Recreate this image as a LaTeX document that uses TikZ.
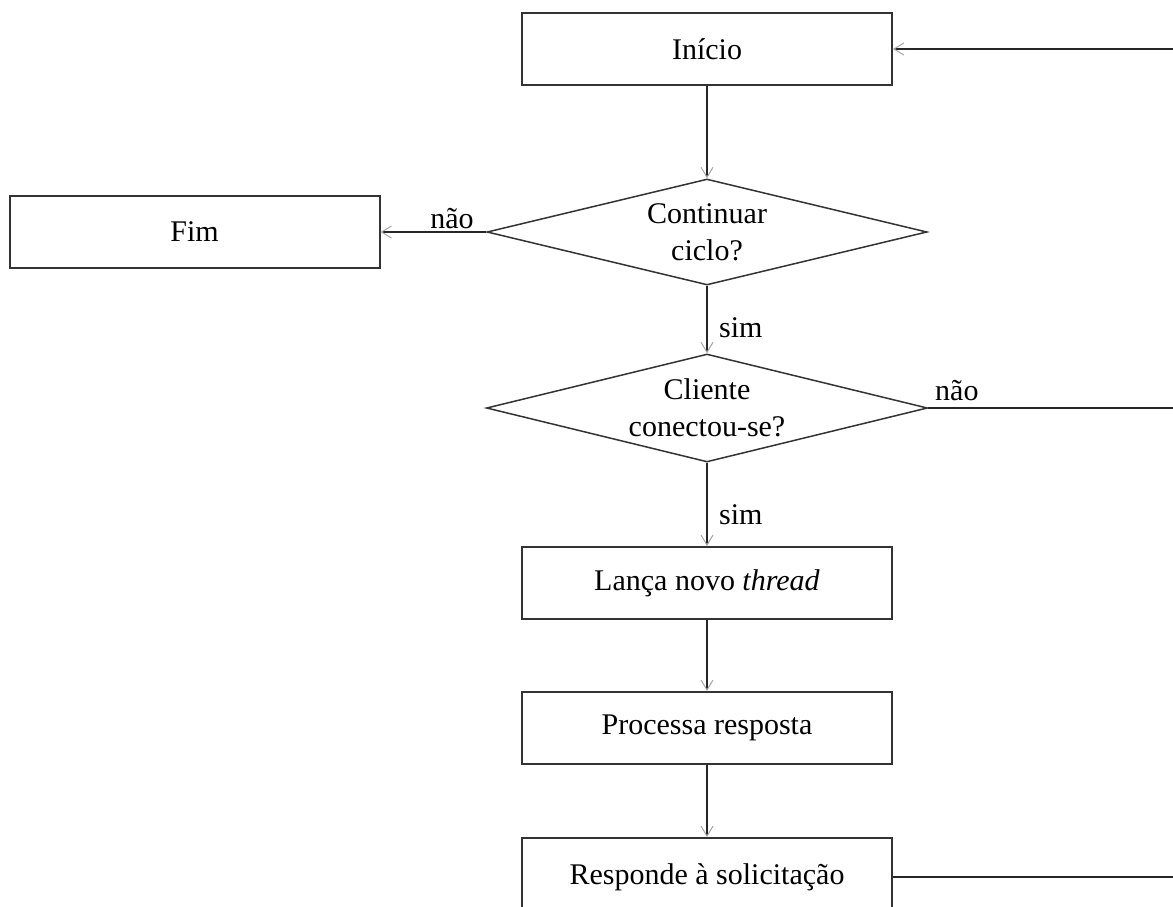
\documentclass[tikz,border=0pt]{standalone}
\usepackage{fontspec}
\setmainfont{Liberation Serif}
\usetikzlibrary{shapes.geometric,arrows.meta}
\begin{document}
\begin{tikzpicture}[x=1pt,y=-1pt,
  font=\fontsize{30}{37}\selectfont,
  procbox/.style={rectangle, draw=black!80, line width=2pt, fill=white,
    minimum width=370pt, minimum height=72pt, inner sep=0pt},
  decision/.style={diamond, draw=black!80, line width=1.5pt, inner sep=0pt},
  flow/.style={draw=black!85, line width=1.6pt},
  arr/.style={flow, -{Straight Barb[length=10pt,width=12pt,line width=1pt,color=black!35]}},
  lbl/.style={inner sep=0pt, anchor=base}]
\useasboundingbox (0,0) rectangle (1173,906);
\clip (0,0) rectangle (1173,906);

% process boxes
\node[procbox] (start) at (707,49) {Início};
\node[procbox] (fim) at (194.5,232) {Fim};
\node[procbox] (thr) at (707,583) {Lança novo \textit{thread}};
\node[procbox] (proc) at (707,728) {Processa resposta};
\node[procbox, minimum height=78pt] (resp) at (707,877) {Responde à solicitação};

% decisions
\node[decision, minimum width=440pt, minimum height=106pt] (d1) at (707,232) {};
\node[align=center] (d1text) at (d1) {Continuar\\ciclo?};
\node[decision, minimum width=441pt, minimum height=108pt] (d2) at (707,408) {};
\node[align=center] (d2text) at (d2) {Cliente\\conectou-se?};

% loose ends of the return loop
\coordinate (back) at (1180,49);
\coordinate (exitA) at (1180,408);
\coordinate (exitB) at (1180,877);

% connectors
\draw[arr] (start.south) -- (d1.north);
\draw[arr] (d1.west) -- (fim.east);
\draw[arr] (d1.south) -- (d2.north);
\draw[arr] (d2.south) -- (thr.north);
\draw[arr] (thr.south) -- (proc.north);
\draw[arr] (proc.south) -- (resp.north);
\draw[flow] (d2.east) -- (exitA);
\draw[flow] (resp.east) -- (exitB);
\draw[arr] (back) -- (start.east);

% branch labels
\node[lbl] (no1) at (452,228) {não};
\node[lbl, anchor=base west] (no2) at (935,400) {não};
\node[lbl, anchor=base west] (yes1) at (719,337) {sim};
\node[lbl, anchor=base west] (yes2) at (719,524) {sim};
\end{tikzpicture}
\end{document}
